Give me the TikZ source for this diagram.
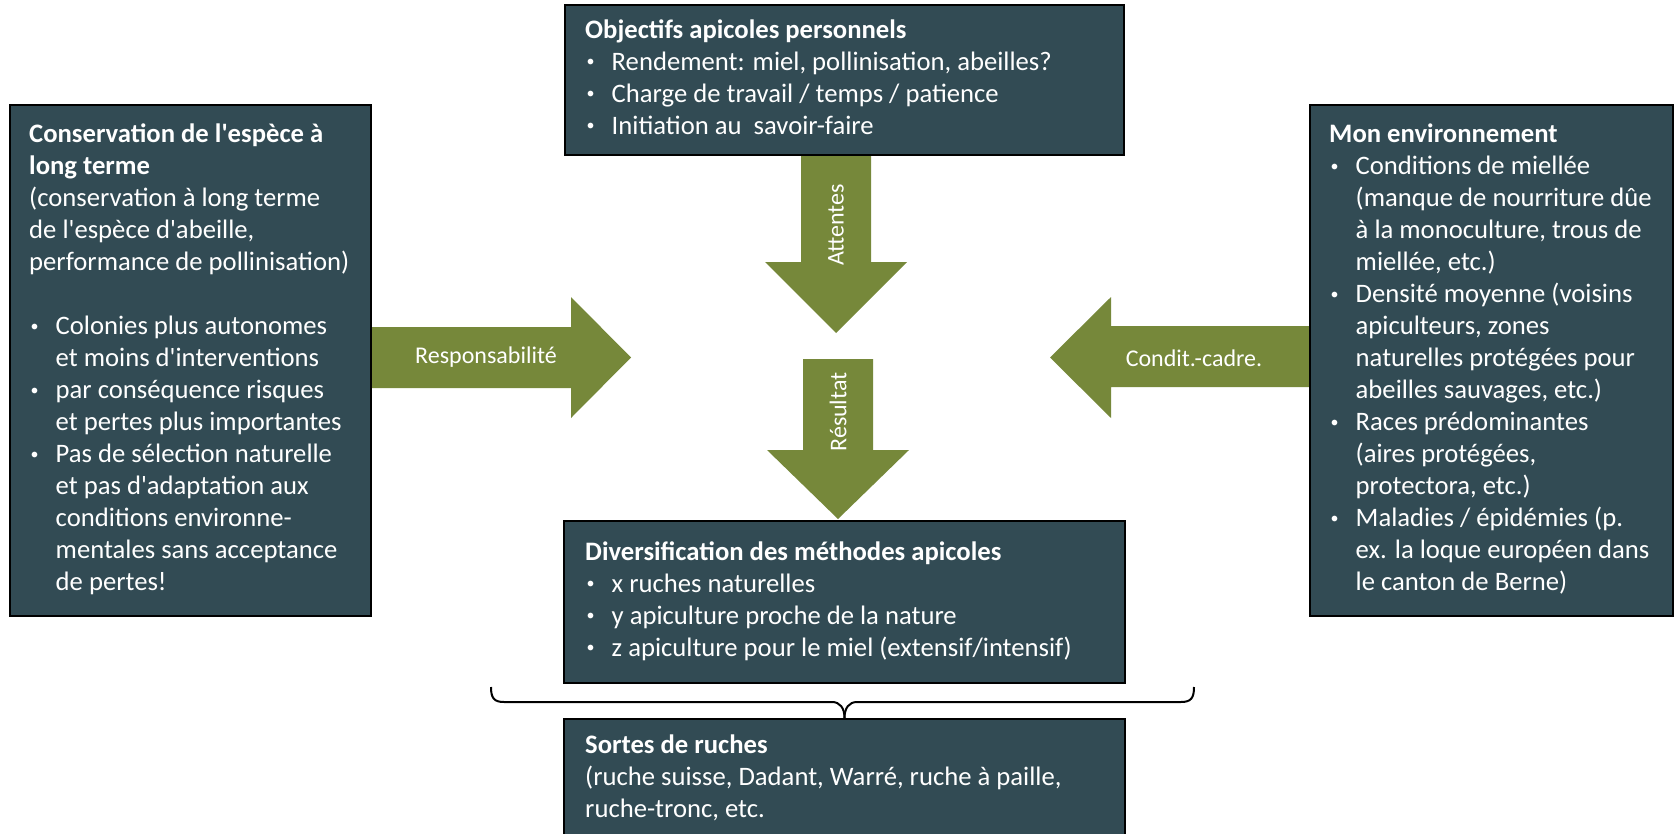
\documentclass[tikz,border=0pt]{standalone}
\usepackage{fontspec}
\setmainfont{Carlito}[Ligatures=TeXOff]
\usetikzlibrary{calc}
\definecolor{boxfill}{RGB}{50,75,84}
\definecolor{arrowgreen}{RGB}{118,136,58}
\newcommand\bul{\makebox[26.5pt][l]{\hspace{1.5pt}\raisebox{3.6pt}{\fontsize{16}{16}\selectfont\textbullet}}}
\newcommand\ind{\hspace*{26.5pt}}
\begin{document}
\begin{tikzpicture}[x=1pt,y=-1pt,
  box/.style={draw=black, line width=2pt, fill=boxfill, inner sep=0pt},
  boxtext/.style={anchor=west, align=left, inner sep=0pt, text=white, font=\fontsize{26.67}{32}\selectfont},
  arrowshape/.style={fill=arrowgreen},
  arrowlabel/.style={text=white, inner sep=0pt, font=\fontsize{24}{28}\selectfont},
  brace/.style={draw=black, line width=2pt}]
\clip (0,0) rectangle (1679,833);
\fill[white] (0,0) rectangle (1679,833);

% block arrows
\fill[arrowshape] (801,155) -- (871,155) -- (871,262) -- (907,262) -- (836,333) -- (765,262) -- (801,262) -- cycle;
\fill[arrowshape] (803,359) -- (873,359) -- (873,450) -- (909,450) -- (838,519) -- (767,450) -- (803,450) -- cycle;
\fill[arrowshape] (371,327) -- (571,327) -- (571,297) -- (631,357.5) -- (571,418) -- (571,388) -- (371,388) -- cycle;
\fill[arrowshape] (1310,326) -- (1111,326) -- (1111,297) -- (1050,357.5) -- (1111,418) -- (1111,387) -- (1310,387) -- cycle;

\node[arrowlabel] (lresp) at (486,357.5) {Responsabilité};
\node[arrowlabel] (lcond) at (1194,358) {Condit.-cadre.};
\node[arrowlabel, rotate=90] (latt) at (836,225) {Attentes};
\node[arrowlabel, rotate=90] (lres) at (838,412) {Résultat};

% boxes
\node[box, minimum width=559pt, minimum height=150pt] (top) at (844.5,80) {};
\node[box, minimum width=361pt, minimum height=511pt] (left) at (190.5,360.5) {};
\node[box, minimum width=363pt, minimum height=511pt] (right) at (1491.5,360.5) {};
\node[box, minimum width=561pt, minimum height=162pt] (div) at (844.5,602) {};
\node[box, minimum width=561pt, minimum height=120pt] (sortes) at (844.5,779) {};

\node[boxtext] (toptext) at ([xshift=21pt]top.west) {\strut\textbf{Objectifs apicoles personnels}\\
\bul Rendement: miel, pollinisation, abeilles?\\
\bul Charge de travail / temps / patience\\
\bul Initiation au\ \ savoir-faire\strut};

\node[boxtext] (lefttext) at ([xshift=20pt]left.west) {\strut\textbf{Conservation de l'espèce à}\\
\textbf{long terme}\\
(conservation à long terme\\
de l'espèce d'abeille,\\
performance de pollinisation)\\[32pt]
\bul Colonies plus autonomes\\
\ind et moins d'interventions\\
\bul par conséquence risques\\
\ind et pertes plus importantes\\
\bul Pas de sélection naturelle\\
\ind et pas d'adaptation aux\\
\ind conditions environne-\\
\ind mentales sans acceptance\\
\ind de pertes!\strut};

\node[boxtext] (righttext) at ([xshift=20pt]right.west) {\strut\textbf{Mon environnement}\\
\bul Conditions de miellée\\
\ind (manque de nourriture dûe\\
\ind à la monoculture, trous de\\
\ind miellée, etc.)\\
\bul Densité moyenne (voisins\\
\ind apiculteurs, zones\\
\ind naturelles protégées pour\\
\ind abeilles sauvages, etc.)\\
\bul Races prédominantes\\
\ind (aires protégées,\\
\ind protectora, etc.)\\
\bul Maladies / épidémies (p.\\
\ind ex. la loque européen dans\\
\ind le canton de Berne)\strut};

\node[boxtext] (divtext) at ([xshift=22pt]div.west) {\strut\textbf{Diversification des méthodes apicoles}\\
\bul x ruches naturelles\\
\bul y apiculture proche de la nature\\
\bul z apiculture pour le miel (extensif/intensif)\strut};

\node[boxtext] (sortestext) at ([xshift=22pt]sortes.west) {\strut\textbf{Sortes de ruches}\\
(ruche suisse, Dadant, Warré, ruche à paille,\\
ruche-tronc, etc.\strut};

% brace
\draw[brace] (491,687) .. controls (491,698) and (494,702) .. (504,702) -- (832,702) .. controls (840,702) and (844.5,708) .. (sortes.north);
\draw[brace] (1194,687) .. controls (1194,698) and (1191,702) .. (1181,702) -- (857,702) .. controls (849,702) and (844.5,708) .. (sortes.north);
\end{tikzpicture}
\end{document}
